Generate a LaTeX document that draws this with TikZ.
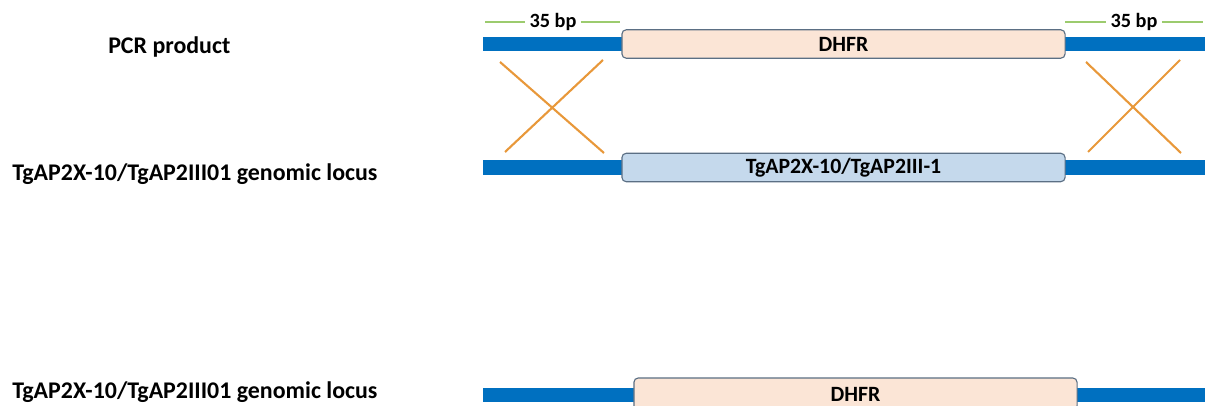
\documentclass[tikz,border=0pt]{standalone}
\usepackage{fontspec}
\setmainfont{Carlito}
\usetikzlibrary{calc}
\usetikzlibrary{positioning}

\definecolor{barblue}{HTML}{0070C0}
\definecolor{peach}{HTML}{FBE5D6}
\definecolor{paleblue}{HTML}{C5D9EC}
\definecolor{boxedge}{HTML}{5B6F84}
\definecolor{crossorange}{HTML}{E8983A}
\definecolor{bpgreen}{HTML}{9CCB6E}

\tikzset{
    bar/.style={draw=barblue, line width=10pt},
    gene/.style={rectangle, rounded corners=3pt, draw=boxedge, line width=0.8pt, minimum width=11.075cm, minimum height=0.71cm, inner sep=0pt, font=\fontsize{15.5}{18}\selectfont\bfseries},
    lbl/.style={anchor=base west, inner sep=0pt, font=\fontsize{17}{20}\selectfont\bfseries},
    cross/.style={draw=crossorange, line width=1.5pt},
    bp/.style={draw=bpgreen, line width=1.4pt},
    bplbl/.style={inner sep=3pt, font=\fontsize{14.4}{17}\selectfont\bfseries}
}

\begin{document}
\begin{tikzpicture}[x=0.025cm, y=-0.025cm]
        \useasboundingbox (0,0) rectangle (1205,406);

        % labels
        \node[lbl] (pcr) at (108,54) {PCR product};
        \node[lbl] (locus1) at (12,181) {TgAP2X-10/TgAP2III01 genomic locus};
        \node[lbl] (locus2) at (12,399) {TgAP2X-10/TgAP2III01 genomic locus};

        % pcr product
        \coordinate (pcrl) at (483,44);
        \coordinate (pcrr) at (1206,44);
        \draw[bar] (pcrl) -- (pcrr);
        \node[gene, fill=peach] (dhfr1) at (843.5,44) {DHFR};

        % homology arms
        \node[bplbl] (bp1) at (553,22) {35 bp};
        \node[bplbl] (bp2) at (1134,22) {35 bp};
        \coordinate (g1) at (485,22);
        \coordinate (g2) at (620,22);
        \coordinate (g3) at (1065,22);
        \coordinate (g4) at (1203,22);
        \draw[bp] (g1) -- (bp1);
        \draw[bp] (bp1) -- (g2);
        \draw[bp] (g3) -- (bp2);
        \draw[bp] (bp2) -- (g4);

        % genomic locus
        \coordinate (locl) at (483,167.5);
        \coordinate (locr) at (1206,167.5);
        \draw[bar] (locl) -- (locr);
        \node[gene, fill=paleblue] (gene1) at (843.5,167.5) {TgAP2X-10/TgAP2III-1};

        % crossovers
        \coordinate (x1a) at (500,62);
        \coordinate (x1b) at (604,153);
        \coordinate (x1c) at (603,60);
        \coordinate (x1d) at (505,152);
        \draw[cross] (x1a) -- (x1b);
        \draw[cross] (x1c) -- (x1d);
        \coordinate (x2a) at (1086,62);
        \coordinate (x2b) at (1181,153);
        \coordinate (x2c) at (1180,60);
        \coordinate (x2d) at (1088,152);
        \draw[cross] (x2a) -- (x2b);
        \draw[cross] (x2c) -- (x2d);

        % replaced locus
        \coordinate (repl) at (483,395);
        \coordinate (repr) at (1206,395);
        \draw[bar] (repl) -- (repr);
        \node[gene, fill=peach, minimum height=0.8cm] (dhfr2) at (855.5,394) {DHFR};

    \end{tikzpicture}
\end{document}
